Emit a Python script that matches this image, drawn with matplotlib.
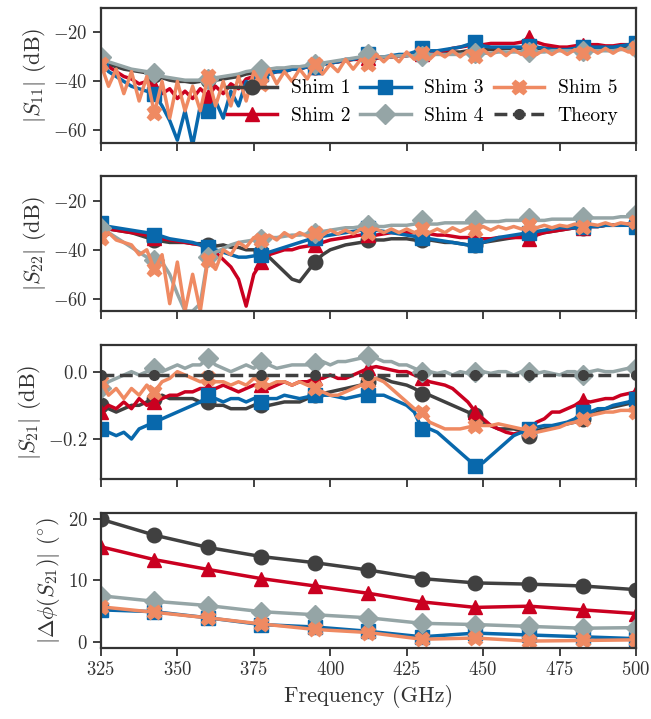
import matplotlib
matplotlib.use("Agg")
import matplotlib.pyplot as plt
import numpy as np

plt.rcParams['font.family'] = 'serif'
plt.rcParams['font.serif'] = ['cmr10']
plt.rcParams['mathtext.fontset'] = 'cm'
plt.rcParams['axes.formatter.use_mathtext'] = True

# frequency grid (GHz), 2.5 GHz steps
freq = np.arange(325, 500.1, 2.5)
# marker frequencies for the phase panel / theory
freq_mk = [325, 342.5, 360, 377.5, 395, 412.5, 430, 447.5, 465, 482.5, 500]

labels = ['Shim 1', 'Shim 2', 'Shim 3', 'Shim 4', 'Shim 5']
colors = ['#404040', '#ca0020', '#0868ac', '#95a5a6', '#ef8a62']
markers = ['o', '^', 's', 'D', 'X']

s11_1 = [-31, -33, -34, -35, -35.5, -36, -36.5, -37.5, -38.5, -39.5,
         -40, -40, -40.5, -40, -39.5, -39.5, -39, -38.5, -38, -37,
         -36.5, -36.5, -36, -36, -35.5, -35, -34.5, -34, -34, -33,
         -32.5, -32, -31.5, -31, -31, -30.5, -30.5, -30, -30, -29.5,
         -29.5, -29, -29, -28.5, -28.5, -28, -28, -28, -27.5, -27,
         -27, -27, -27, -26.5, -26.5, -26.5, -26.5, -26.5, -26.5, -26.5,
         -26.5, -26.5, -26.5, -26.5, -26, -26, -26, -26, -26, -26,
         -26]
s11_2 = [-32, -34, -36, -38, -39, -41, -40, -42, -45, -43,
         -47, -44, -47, -43, -46, -42, -45, -41, -43, -39,
         -38, -37, -37, -36, -36, -35, -35, -34, -34, -33,
         -32.5, -32, -31.5, -31, -31, -30.5, -30.5, -30, -30, -29.5,
         -29.5, -29, -29, -28.5, -28, -27.5, -26.5, -26, -25.5, -25,
         -25, -24.5, -24.5, -24.5, -24.5, -24, -22, -24, -25, -25.5,
         -26, -26, -25.5, -25, -25, -25, -25.5, -25.5, -25, -25,
         -25]
s11_3 = [-32, -36, -38, -40, -42, -43, -44, -45, -50, -56,
         -64, -52, -66, -50, -52, -48, -55, -44, -50, -40,
         -42, -37, -37, -36, -36, -35, -35, -34, -34, -33,
         -32.5, -32, -31, -31, -30, -29, -30, -30, -29.5, -29,
         -29, -28, -26.5, -27.5, -27.5, -27, -26.5, -26, -25, -24,
         -25.5, -26, -26, -26, -26, -26, -25.5, -26, -26.5, -27,
         -27, -27, -26.5, -26, -26, -26, -26, -26, -25.5, -25,
         -24.5]
s11_4 = [-30, -32, -33, -34, -35, -35.5, -36, -36.5, -38, -38.5,
         -39, -39.5, -39.5, -39.5, -39, -38.5, -38, -37.5, -37, -36,
         -35.5, -35, -35, -34.5, -34.5, -34, -34, -33.5, -33, -32.5,
         -32, -31.5, -31, -30.5, -30, -29, -30, -30, -30, -29.5,
         -29.5, -29.5, -29.5, -29, -29, -29, -29, -29, -28.5, -28.5,
         -28.5, -28.5, -28, -28, -28, -28, -28, -28, -28, -27.5,
         -27.5, -27.5, -27.5, -27.5, -27.5, -27.5, -27.5, -27.5, -27, -27,
         -26.5]
s11_5 = [-33, -42, -35, -45, -36, -48, -38, -53, -40, -55,
         -40, -52, -42, -52, -38, -50, -40, -50, -38, -48,
         -36, -41, -35, -41, -36, -40, -35, -39, -33, -37,
         -33, -36, -31, -35, -31, -33, -29, -32, -29, -32,
         -28, -31, -28.5, -31, -28, -30, -27.5, -30, -27.5, -29.5,
         -27, -29.5, -27, -29.5, -27, -29, -27, -29, -27, -29,
         -27, -29, -27, -28.5, -26.5, -28.5, -26.5, -28.5, -26.5, -28,
         -26.5]

s22_1 = [-31, -31.5, -32, -32.5, -33, -34, -35, -36, -36.5, -37,
         -37, -37, -37.5, -37.5, -38, -38.5, -38, -39, -39, -40,
         -40, -41, -43, -46, -49, -52, -53, -49, -45, -42,
         -40, -39, -38, -37.5, -37, -36, -36, -36, -35.5, -35.5,
         -35.5, -36, -36, -36, -36.5, -37, -37, -37.5, -38, -38,
         -37, -36.5, -36, -35.5, -35, -34.5, -34, -33.5, -33, -32.5,
         -32, -31.5, -31, -31, -30.5, -30.5, -30, -30, -29.5, -29.5,
         -29]
s22_2 = [-31, -31.5, -32, -32.5, -33, -33.5, -34, -35, -35.5, -36,
         -36.5, -37, -37.5, -38, -39, -41, -44, -47, -52, -63,
         -50, -45, -42, -41, -40, -40, -39, -38.5, -38, -37,
         -36, -35.5, -35, -34.5, -34, -34, -34, -33.5, -33, -33,
         -33, -33, -33, -33.5, -34, -34, -34.5, -35, -35, -35.5,
         -35.5, -35.5, -35, -35, -35, -35, -35.5, -34, -33, -32.5,
         -32, -31.5, -31, -31, -30.5, -30.5, -30, -30, -30, -29.5,
         -29.5]
s22_3 = [-29, -30.5, -31, -31.5, -32, -32.5, -33, -34, -34.5, -35.5,
         -36, -36.5, -37, -38, -39, -40, -41, -42, -43, -43,
         -42.5, -42, -41, -40, -39, -38, -37, -36, -35, -34.5,
         -34, -33.5, -33, -32.5, -32, -31, -32, -32.5, -33, -33.5,
         -34, -34.5, -35, -35.5, -36, -36.5, -37, -37.5, -38, -38,
         -37, -36, -35, -34.5, -34, -33.5, -33, -32.5, -32, -31.5,
         -31, -31, -31, -30.5, -30.5, -30.5, -30, -30, -30, -30,
         -30.5]
s22_4 = [-31, -33, -35, -37, -39, -41, -43, -44, -45, -50,
         -58, -65, -65, -62, -43, -41, -39.5, -38, -37, -36.5,
         -36, -35.5, -35, -35, -34.5, -34, -34, -33.5, -33, -32.5,
         -32, -31.5, -31, -31, -30.5, -30, -30.5, -30.5, -30, -30,
         -30, -29.5, -28, -29.5, -29.5, -29, -29, -29, -29, -28,
         -28.5, -28.5, -28.5, -28, -28, -28, -27, -28, -28, -27.5,
         -27.5, -27.5, -27.5, -26.5, -27, -27, -27, -27, -26.5, -26.5,
         -25.5]
s22_5 = [-35, -33, -36, -37, -38, -42, -40, -48, -42, -62,
         -45, -65, -50, -65, -44, -48, -40, -42, -37, -39,
         -35, -36, -34, -36, -33, -35, -33, -34.5, -33, -34,
         -32, -33.5, -32, -33.5, -31.5, -33, -31.5, -33, -31.5, -33,
         -31.5, -33, -31.5, -33, -31.5, -33, -31, -32.5, -31, -32,
         -30.5, -32, -30.5, -31.5, -30.5, -31.5, -30, -31, -30, -31,
         -30, -30.5, -29.5, -30.5, -29.5, -30, -29, -30, -29, -29.5,
         -28.5]

s21_1 = [-0.10, -0.11, -0.12, -0.11, -0.10, -0.10, -0.09, -0.08, -0.07, -0.08,
         -0.08, -0.08, -0.08, -0.09, -0.09, -0.10, -0.10, -0.11, -0.11, -0.11,
         -0.10, -0.10, -0.10, -0.095, -0.09, -0.09, -0.09, -0.08, -0.07, -0.065,
         -0.06, -0.055, -0.05, -0.045, -0.04, -0.03, -0.02, -0.02, -0.03, -0.035,
         -0.04, -0.05, -0.065, -0.07, -0.08, -0.09, -0.10, -0.11, -0.12, -0.13,
         -0.15, -0.16, -0.17, -0.17, -0.17, -0.175, -0.19, -0.175, -0.17, -0.165,
         -0.16, -0.155, -0.15, -0.14, -0.13, -0.12, -0.11, -0.105, -0.10, -0.095,
         -0.09]
s21_2 = [-0.12, -0.10, -0.11, -0.09, -0.11, -0.08, -0.10, -0.09, -0.08, -0.07,
         -0.07, -0.06, -0.06, -0.05, -0.05, -0.05, -0.04, -0.05, -0.06, -0.05,
         -0.04, -0.04, -0.05, -0.04, -0.03, -0.04, -0.03, -0.03, -0.02, -0.02,
         -0.01, -0.02, -0.02, -0.01, 0.0, 0.01, 0.015, 0.01, 0.005, 0.0,
         0.0, -0.01, -0.02, -0.03, -0.035, -0.04, -0.05, -0.07, -0.09, -0.12,
         -0.14, -0.16, -0.17, -0.18, -0.185, -0.18, -0.17, -0.15, -0.14, -0.12,
         -0.12, -0.11, -0.10, -0.085, -0.09, -0.085, -0.08, -0.08, -0.07, -0.065,
         -0.06]
s21_3 = [-0.17, -0.18, -0.19, -0.18, -0.20, -0.17, -0.16, -0.15, -0.14, -0.13,
         -0.12, -0.11, -0.10, -0.09, -0.07, -0.08, -0.09, -0.08, -0.08, -0.09,
         -0.08, -0.09, -0.08, -0.08, -0.07, -0.075, -0.08, -0.075, -0.07, -0.07,
         -0.07, -0.075, -0.08, -0.075, -0.07, -0.07, -0.07, -0.07, -0.08, -0.09,
         -0.10, -0.12, -0.17, -0.17, -0.18, -0.20, -0.22, -0.24, -0.26, -0.28,
         -0.27, -0.25, -0.23, -0.21, -0.19, -0.18, -0.17, -0.165, -0.16, -0.16,
         -0.155, -0.15, -0.14, -0.12, -0.12, -0.11, -0.11, -0.10, -0.095, -0.09,
         -0.08]
s21_4 = [-0.05, -0.03, -0.02, -0.01, 0.0, -0.01, 0.0, 0.01, 0.0, 0.01,
         0.02, 0.01, 0.02, 0.02, 0.04, 0.02, 0.01, 0.0, 0.01, 0.02,
         0.01, 0.03, 0.02, 0.01, 0.015, 0.02, 0.02, 0.02, 0.025, 0.03,
         0.02, 0.03, 0.03, 0.035, 0.04, 0.045, 0.04, 0.03, 0.03, 0.02,
         0.02, 0.01, 0.0, 0.0, -0.005, 0.0, -0.01, 0.0, -0.005, 0.0,
         0.0, -0.005, 0.0, 0.0, -0.01, 0.0, 0.0, -0.005, 0.0, -0.005,
         -0.01, 0.0, 0.0, -0.01, 0.0, 0.005, 0.0, 0.0, 0.005, 0.01,
         0.01]
s21_5 = [-0.03, -0.07, -0.05, -0.08, -0.05, -0.07, -0.04, -0.06, -0.03, -0.02,
         0.0, -0.01, -0.02, -0.03, -0.02, -0.03, -0.03, -0.04, -0.03, -0.04,
         -0.02, -0.03, -0.04, -0.03, -0.03, -0.04, -0.03, -0.04, -0.05, -0.06,
         -0.07, -0.07, -0.06, -0.05, -0.04, -0.03, -0.02, -0.03, -0.05, -0.07,
         -0.09, -0.11, -0.12, -0.15, -0.16, -0.17, -0.17, -0.17, -0.165, -0.16,
         -0.16, -0.16, -0.155, -0.16, -0.165, -0.17, -0.175, -0.18, -0.175, -0.17,
         -0.165, -0.155, -0.15, -0.14, -0.13, -0.125, -0.12, -0.12, -0.115, -0.115,
         -0.12]
theory_s21 = [-0.01, -0.01, -0.01, -0.01, -0.01, -0.01, -0.01, -0.01, -0.01, -0.01, -0.01]

dphi_1 = [20.0, 17.4, 15.4, 13.9, 12.9, 11.7, 10.3, 9.6, 9.4, 9.1, 8.5]
dphi_2 = [15.5, 13.4, 11.8, 10.3, 9.1, 7.9, 6.5, 5.6, 5.8, 5.2, 4.6]
dphi_3 = [5.2, 4.9, 3.9, 2.8, 2.4, 1.7, 0.8, 1.4, 1.1, 0.8, 0.5]
dphi_4 = [7.5, 6.6, 5.9, 4.9, 4.4, 3.9, 3.0, 2.8, 2.5, 2.2, 2.3]
dphi_5 = [5.7, 4.8, 3.9, 2.9, 2.0, 1.5, 0.4, 0.6, 0.1, 0.2, 0.3]

s11 = [s11_1, s11_2, s11_3, s11_4, s11_5]
s22 = [s22_1, s22_2, s22_3, s22_4, s22_5]
s21 = [s21_1, s21_2, s21_3, s21_4, s21_5]
dphi = [dphi_1, dphi_2, dphi_3, dphi_4, dphi_5]

fig, axes = plt.subplots(4, 1, figsize=(6.51, 7.19), dpi=100, sharex=True)
fig.subplots_adjust(left=0.155, right=0.977, top=0.989, bottom=0.099, hspace=0.25)

lw = 2.5
ms = 10.5
for i in range(5):
    axes[0].plot(freq, s11[i], color=colors[i], lw=lw, marker=markers[i], ms=ms, markevery=7)
    axes[1].plot(freq, s22[i], color=colors[i], lw=lw, marker=markers[i], ms=ms, markevery=7)
    axes[2].plot(freq, s21[i], color=colors[i], lw=lw, marker=markers[i], ms=ms, markevery=7,
                 label=labels[i])
    axes[3].plot(freq_mk, dphi[i], color=colors[i], lw=lw, marker=markers[i], ms=ms)
axes[2].plot(freq_mk, theory_s21, color='#404040', lw=lw, ls='--', marker='o', ms=7,
             label='Theory')

handles, leg_labels = axes[2].get_legend_handles_labels()
axes[0].legend(handles, leg_labels, ncol=3, loc='lower right', frameon=False,
               fontsize=14, bbox_to_anchor=(1.0, 0.0), handlelength=2.6,
               columnspacing=0.5, handletextpad=0.7, labelspacing=0.5)

axes[0].set_ylim(-65, -10)
axes[1].set_ylim(-65, -10)
axes[2].set_ylim(-0.32, 0.08)
axes[3].set_ylim(-1, 21)
axes[0].set_yticks([-60, -40, -20])
axes[1].set_yticks([-60, -40, -20])
axes[2].set_yticks([-0.2, 0.0])
axes[2].set_yticklabels(['$-0.2$', '$0.0$'])
axes[3].set_yticks([0, 10, 20])

axes[0].set_ylabel(r'$|S_{11}|$ (dB)', fontsize=16)
axes[1].set_ylabel(r'$|S_{22}|$ (dB)', fontsize=16)
axes[2].set_ylabel(r'$|S_{21}|$ (dB)', fontsize=16)
axes[3].set_ylabel(r'$|\Delta\phi(S_{21})|$ $(^{\circ})$', fontsize=16)
axes[3].set_xlabel('Frequency (GHz)', fontsize=16)
axes[3].set_xlim(325, 500)
axes[3].set_xticks([325, 350, 375, 400, 425, 450, 475, 500])

for ax in axes:
    for sp in ax.spines.values():
        sp.set_color('#333333')
        sp.set_linewidth(1.6)
    ax.tick_params(direction='out', length=6, width=1.3, color='#333333',
                   labelsize=13.5, labelcolor='#333333')
    ax.yaxis.label.set_color('#333333')
    ax.xaxis.label.set_color('#333333')

fig.savefig('out.png', dpi=100)
